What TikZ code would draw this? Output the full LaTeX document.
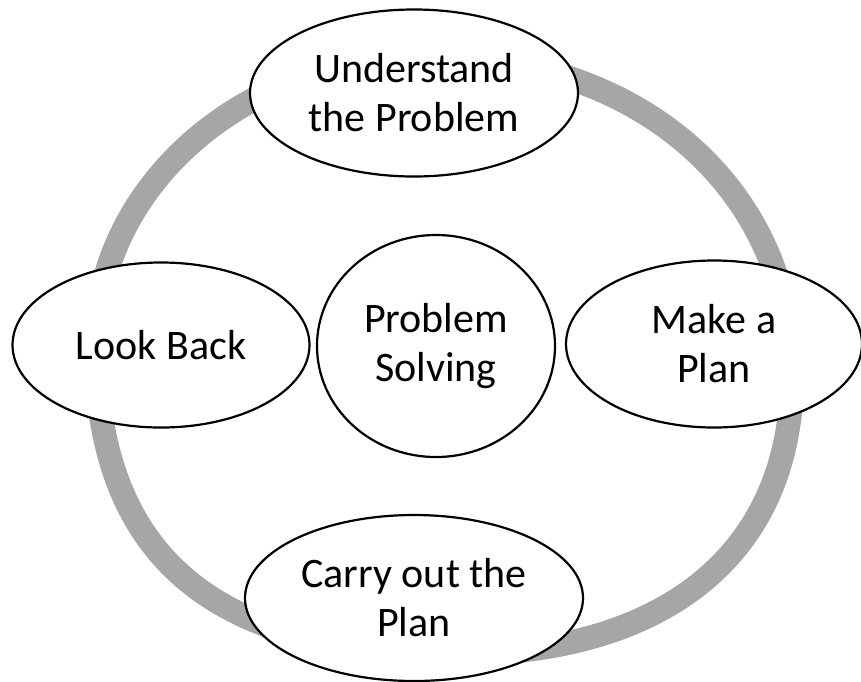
\documentclass[tikz,border=0pt]{standalone}
\usepackage{fontspec}
\setmainfont{Carlito}
\usetikzlibrary{shapes.geometric}
\definecolor{ringgray}{RGB}{166,166,166}
\tikzset{
  stage/.style={ellipse, draw=black, line width=2.2pt, fill=white,
    align=center, inner sep=0pt,
    font=\fontsize{42}{49}\selectfont},
  ring/.style={draw=ringgray, line width=24pt}
}
\begin{document}
\begin{tikzpicture}[x=1pt, y=-1pt]
\useasboundingbox (0,0) rectangle (861,681);
% extreme points of the grey cycle
\coordinate (rt) at (429,56);
\coordinate (rr) at (792,375);
\coordinate (rb) at (457,654);
\coordinate (rl) at (96,345);
% grey cycle behind the stages, one curve per quarter
\draw[ring] (rt) .. controls (640,56) and (792,190) .. (rr)
  .. controls (792,551) and (668,654) .. (rb)
  .. controls (212,654) and (96,555) .. (rl)
  .. controls (96,186) and (245,56) .. (rt) -- cycle;
% stages of the cycle
\node[stage, minimum width=328pt, minimum height=167pt] (understand) at (414,93) {Understand\\the Problem};
\node[stage, minimum width=296pt, minimum height=167pt] (plan) at (714,344) {Make a\\Plan};
\node[stage, minimum width=338pt, minimum height=166pt] (carry) at (414,598) {Carry out the\\Plan};
\node[stage, minimum width=297pt, minimum height=165pt] (lookback) at (161,345) {Look Back};
% centre
\node[stage, minimum width=238pt, minimum height=222pt] (solving) at (436,346) {Problem\\Solving};
\end{tikzpicture}
\end{document}
